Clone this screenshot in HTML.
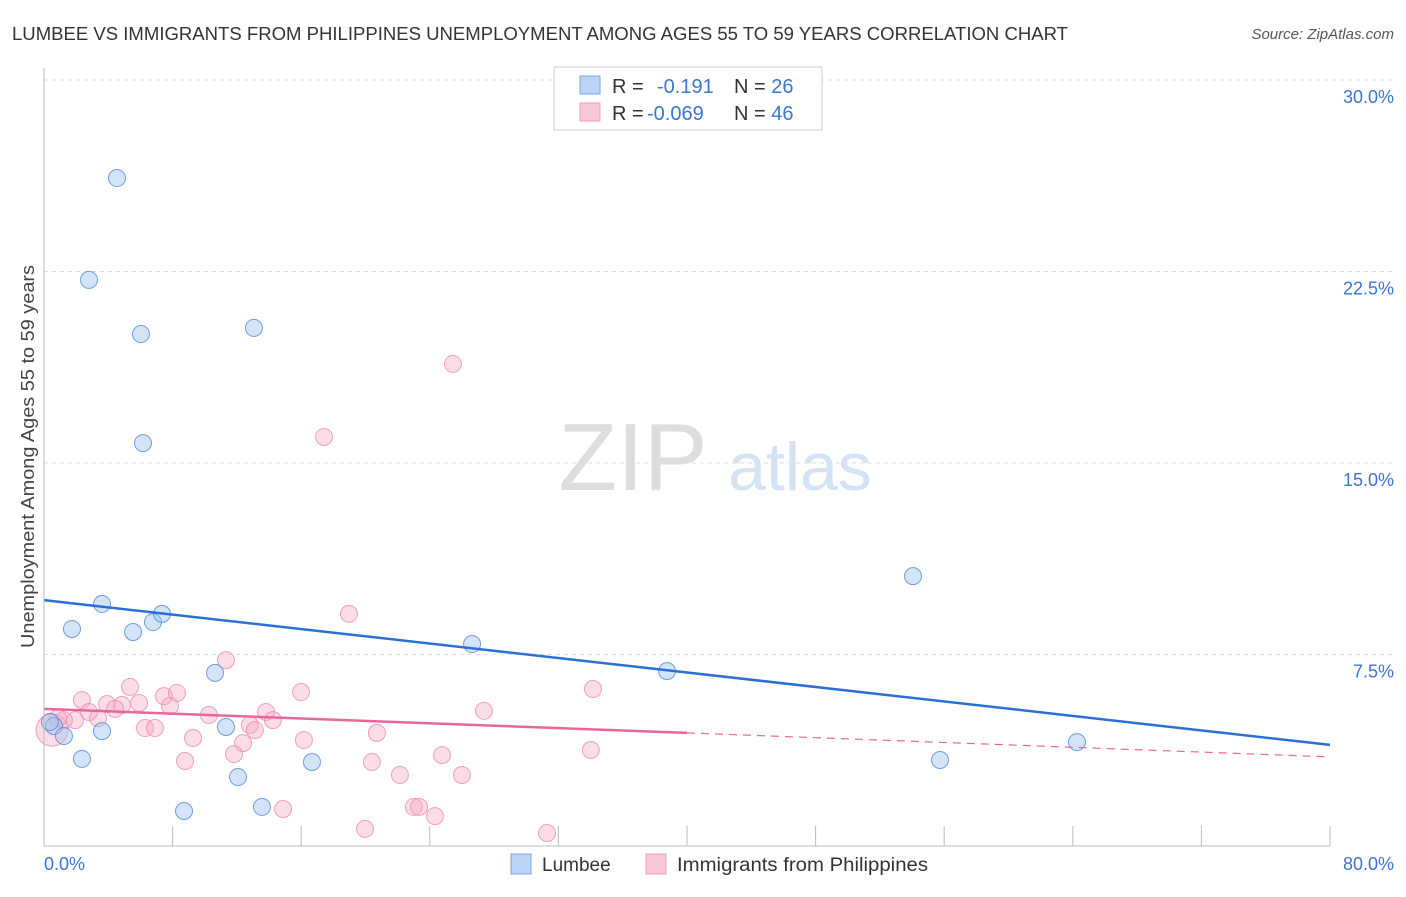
<!DOCTYPE html>
<html><head><meta charset="utf-8"><style>
body{margin:0;background:#fff;font-family:"Liberation Sans",sans-serif}
svg text{font-family:"Liberation Sans",sans-serif}
</style></head><body>
<svg id="c" width="1406" height="892" xmlns="http://www.w3.org/2000/svg">
<text x="12" y="40" font-size="18" fill="#333" textLength="1056" lengthAdjust="spacingAndGlyphs">LUMBEE VS IMMIGRANTS FROM PHILIPPINES UNEMPLOYMENT AMONG AGES 55 TO 59 YEARS CORRELATION CHART</text>
<text x="1394" y="39" font-size="15" fill="#555" font-style="italic" text-anchor="end">Source: ZipAtlas.com</text>
<text x="34" y="648" font-size="18" fill="#444" textLength="383" lengthAdjust="spacingAndGlyphs" transform="rotate(-90 34 648)">Unemployment Among Ages 55 to 59 years</text>
<text x="633" y="490" font-size="96" fill="#ddd" font-family="Liberation Serif" text-anchor="middle">ZIP</text>
<text x="800" y="490" font-size="68" fill="#d4e2f4" text-anchor="middle">atlas</text>
<g id="grid"></g><g id="pts"></g><g id="lines"></g>
<line x1="44" y1="68" x2="44" y2="846" stroke="#bbb"/>
<line x1="44" y1="846" x2="1330" y2="846" stroke="#bbb"/>
<text x="44" y="870" font-size="18" fill="#3a75d0">0.0%</text>
<text x="1394" y="870" font-size="18" fill="#3a75d0" text-anchor="end">80.0%</text>
<g>
<rect x="554" y="67" width="268" height="63" fill="#fff" stroke="#ccc"/>
<rect x="580" y="76" width="20" height="18" fill="#bcd4f5" stroke="#7aa6e6"/>
<rect x="580" y="103" width="20" height="18" fill="#f9c8d8" stroke="#ef9cb7"/>
<text x="612" y="93" font-size="20" fill="#333">R = <tspan fill="#3a75d0" x="657">-0.191</tspan><tspan x="734" fill="#333">N = </tspan><tspan fill="#3a75d0">26</tspan></text>
<text x="612" y="120" font-size="20" fill="#333">R = <tspan fill="#3a75d0" x="647">-0.069</tspan><tspan x="734" fill="#333">N = </tspan><tspan fill="#3a75d0">46</tspan></text>
</g>
<g>
<rect x="511" y="854" width="20" height="20" fill="#bcd4f5" stroke="#7aa6e6"/>
<text x="542" y="871" font-size="19" fill="#333">Lumbee</text>
<rect x="646" y="854" width="20" height="20" fill="#f9c8d8" stroke="#ef9cb7"/>
<text x="677" y="871" font-size="19" fill="#333" textLength="251" lengthAdjust="spacingAndGlyphs">Immigrants from Philippines</text>
</g>
</svg>
<script>
const yTicks=[7.5,15,22.5,30];
const yTickLabels=["7.5%","15.0%","22.5%","30.0%"];
const xTicks=[8,16,24,32,40,48,56,64,72,80];
const lumbeeX=[4.54,2.80,6.03,13.06,6.16,54.06,3.61,1.74,5.54,6.78,7.34,26.63,38.76,10.64,64.26,11.32,3.61,0.62,1.24,2.36,16.67,55.74,12.07,13.56,8.71,0.37];
const lumbeeY=[26.16,22.17,20.05,20.29,15.78,10.57,9.48,8.50,8.38,8.77,9.09,7.91,6.85,6.78,4.07,4.66,4.50,4.70,4.31,3.41,3.29,3.37,2.70,1.53,1.37,4.86];
const philX=[11.32,5.35,2.36,3.92,4.85,5.91,4.42,2.80,7.46,8.27,7.84,15.99,1.93,3.36,10.26,13.81,14.24,6.28,6.90,9.27,12.81,13.12,12.38,11.82,8.77,16.17,20.71,20.40,22.14,24.76,26.00,27.37,34.15,34.02,14.87,23.01,23.33,24.32,19.97,31.29,0.50,1.24,0.87,25.44,17.42,18.97];
const philY=[7.28,6.23,5.72,5.56,5.52,5.60,5.37,5.25,5.87,5.99,5.48,6.03,4.93,5.01,5.13,5.25,4.93,4.62,4.62,4.23,4.74,4.54,4.03,3.60,3.33,4.15,4.43,3.29,2.78,3.56,2.78,5.29,6.15,3.76,1.45,1.53,1.53,1.17,0.67,0.51,4.54,4.93,5.01,18.88,16.02,9.09];
const lumbeeLine=[9.63,3.96];
const philLine=[5.37,3.49];
const philSolidEnd=40;
const NS="http://www.w3.org/2000/svg";
const X=v=>44+v/80*1286, Y=v=>846-v/7.5*191.5;
function mk(t,a,p){const e=document.createElementNS(NS,t);for(const k in a)e.setAttribute(k,a[k]);p.appendChild(e);return e;}
const grid=document.getElementById('grid');
yTicks.forEach((t,i)=>{
 const l=mk('line',{x1:44,x2:1394,y1:Y(t),y2:Y(t),stroke:'#ddd','stroke-dasharray':'4 4'},grid);
 
 
 const tx=mk('text',{x:1394,y:Y(t)+23,'font-size':18,fill:'#3a75d0','text-anchor':'end'},grid);
 tx.textContent=yTickLabels[i];
 
 
});
xTicks.forEach(t=>{
 const l=mk('line',{x1:X(t),x2:X(t),y1:826,y2:846,stroke:'#bbb'},grid);
 
 
});
const pts=document.getElementById('pts');
philX.forEach((x,i)=>{
 const c=mk('circle',{cx:X(x),cy:Y(philY[i]),r:i==40?16:8.5,fill:'rgba(247,170,196,0.4)',stroke:'rgba(236,140,175,0.8)','stroke-width':1},pts);
 
 
});
lumbeeX.forEach((x,i)=>{
 const c=mk('circle',{cx:X(x),cy:Y(lumbeeY[i]),r:8.5,fill:'rgba(160,195,240,0.45)',stroke:'rgba(80,135,215,0.8)','stroke-width':1},pts);
 
 
});
const lg=document.getElementById('lines');
const b=mk('line',{x1:X(0),y1:Y(lumbeeLine[0]),x2:X(80),y2:Y(lumbeeLine[1]),stroke:'#2b6fd6','stroke-width':2.5},lg);


const pm=v=>philLine[0]+(philLine[1]-philLine[0])*v/80;
const p1=mk('line',{x1:X(0),y1:Y(pm(0)),x2:X(philSolidEnd),y2:Y(pm(philSolidEnd)),stroke:'#e8679a','stroke-width':2.5},lg);


const p2=mk('line',{x1:X(philSolidEnd),y1:Y(pm(philSolidEnd)),x2:X(80),y2:Y(pm(80)),stroke:'#e8679a','stroke-width':1.2,'stroke-dasharray':'8 6'},lg);


</script>
</body></html>
